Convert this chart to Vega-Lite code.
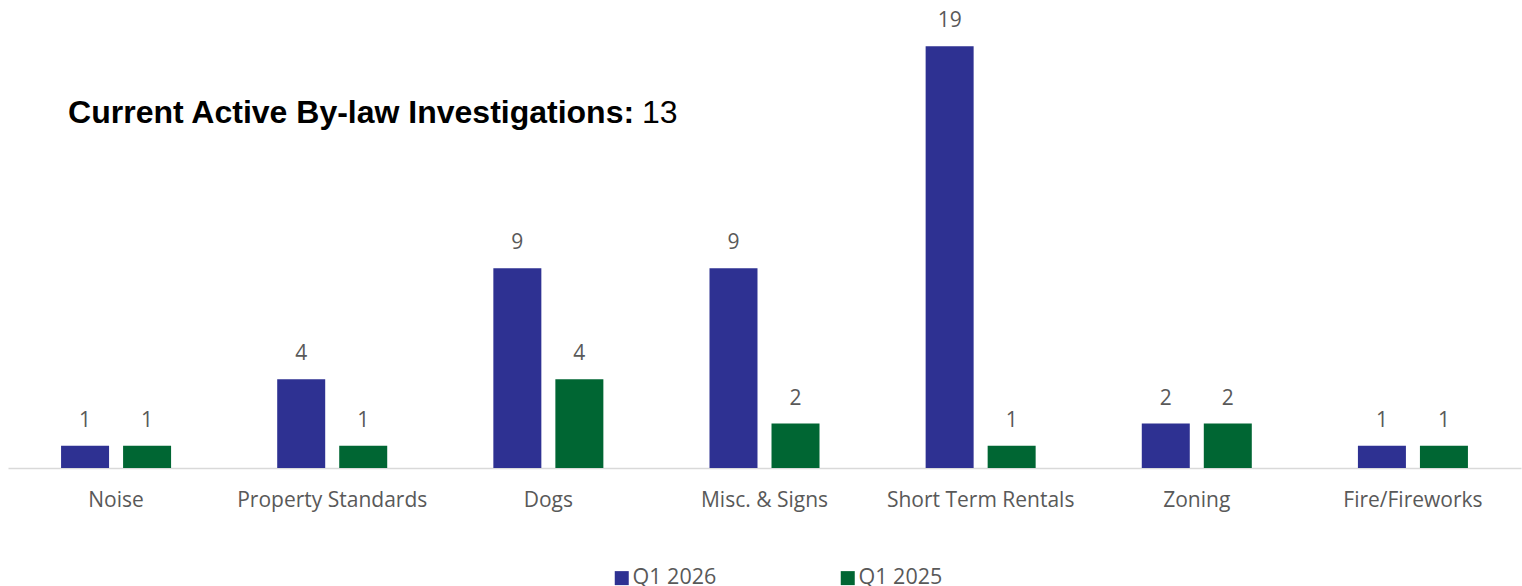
{
  "$schema": "https://vega.github.io/schema/vega-lite/v6.json",
  "width": 1513,
  "height": 444,
  "autosize": {"type": "none"},
  "padding": {"left": 8, "top": 24, "right": 1, "bottom": 118},
  "background": "white",
  "config": {"view": {"stroke": null}, "font": "Open Sans"},
  "datasets": {
    "counts": [
      {"category": "Noise", "series": "Q1 2026", "count": 1},
      {"category": "Noise", "series": "Q1 2025", "count": 1},
      {"category": "Property Standards", "series": "Q1 2026", "count": 4},
      {"category": "Property Standards", "series": "Q1 2025", "count": 1},
      {"category": "Dogs", "series": "Q1 2026", "count": 9},
      {"category": "Dogs", "series": "Q1 2025", "count": 4},
      {"category": "Misc. & Signs", "series": "Q1 2026", "count": 9},
      {"category": "Misc. & Signs", "series": "Q1 2025", "count": 2},
      {"category": "Short Term Rentals", "series": "Q1 2026", "count": 19},
      {"category": "Short Term Rentals", "series": "Q1 2025", "count": 1},
      {"category": "Zoning", "series": "Q1 2026", "count": 2},
      {"category": "Zoning", "series": "Q1 2025", "count": 2},
      {"category": "Fire/Fireworks", "series": "Q1 2026", "count": 1},
      {"category": "Fire/Fireworks", "series": "Q1 2025", "count": 1}
    ]
  },
  "encoding": {
    "x": {
      "field": "category", "type": "nominal", "sort": null,
      "scale": {"paddingInner": 0.491, "paddingOuter": 0.2455},
      "axis": {"title": null, "labelAngle": 0, "ticks": false, "domainColor": "#D9D9D9", "domainWidth": 1.5, "labelFontSize": 21, "labelColor": "#595959", "labelPadding": 21, "labelFont": "Open Sans", "labelLimit": 400}
    }
  },
  "layer": [
    {
      "data": {"name": "counts"},
      "mark": {"type": "bar"},
      "encoding": {
        "xOffset": {"field": "series", "type": "nominal", "sort": ["Q1 2026", "Q1 2025"], "scale": {"paddingInner": 0.226, "paddingOuter": 0}},
        "y": {"field": "count", "type": "quantitative", "scale": {"domain": [0, 20]}, "axis": null},
        "color": {
          "field": "series", "type": "nominal",
          "scale": {"domain": ["Q1 2026", "Q1 2025"], "range": ["#2E3192", "#006633"]},
          "legend": {"orient": "none", "legendX": 603, "legendY": 543, "direction": "horizontal", "title": null, "symbolType": "square", "symbolSize": 196, "symbolStrokeWidth": 0, "labelFontSize": 21.5, "labelColor": "#595959", "labelFont": "Open Sans", "columnPadding": 120, "labelOffset": 0}
        }
      }
    },
    {
      "data": {"name": "counts"},
      "mark": {"type": "text", "baseline": "alphabetic", "dy": -19, "fontSize": 21, "color": "#595959", "font": "Open Sans"},
      "encoding": {
        "xOffset": {"field": "series", "type": "nominal", "sort": ["Q1 2026", "Q1 2025"]},
        "y": {"field": "count", "type": "quantitative"},
        "text": {"field": "count", "type": "quantitative"}
      }
    },
    {
      "data": {"values": [{"t": "Current Active By-law Investigations:"}]},
      "mark": {"type": "text", "align": "left", "baseline": "middle", "fontSize": 32, "fontWeight": "bold", "font": "Liberation Sans", "color": "#000000", "dx": -48},
      "encoding": {
        "x": {"datum": "Noise", "type": "nominal"},
        "y": {"datum": 16, "type": "quantitative"},
        "text": {"field": "t", "type": "nominal"}
      }
    },
    {
      "data": {"values": [{"t": "13"}]},
      "mark": {"type": "text", "align": "left", "baseline": "middle", "fontSize": 32, "fontWeight": "normal", "font": "Liberation Sans", "color": "#000000", "dx": 526},
      "encoding": {
        "x": {"datum": "Noise", "type": "nominal"},
        "y": {"datum": 16, "type": "quantitative"},
        "text": {"field": "t", "type": "nominal"}
      }
    }
  ]
}
